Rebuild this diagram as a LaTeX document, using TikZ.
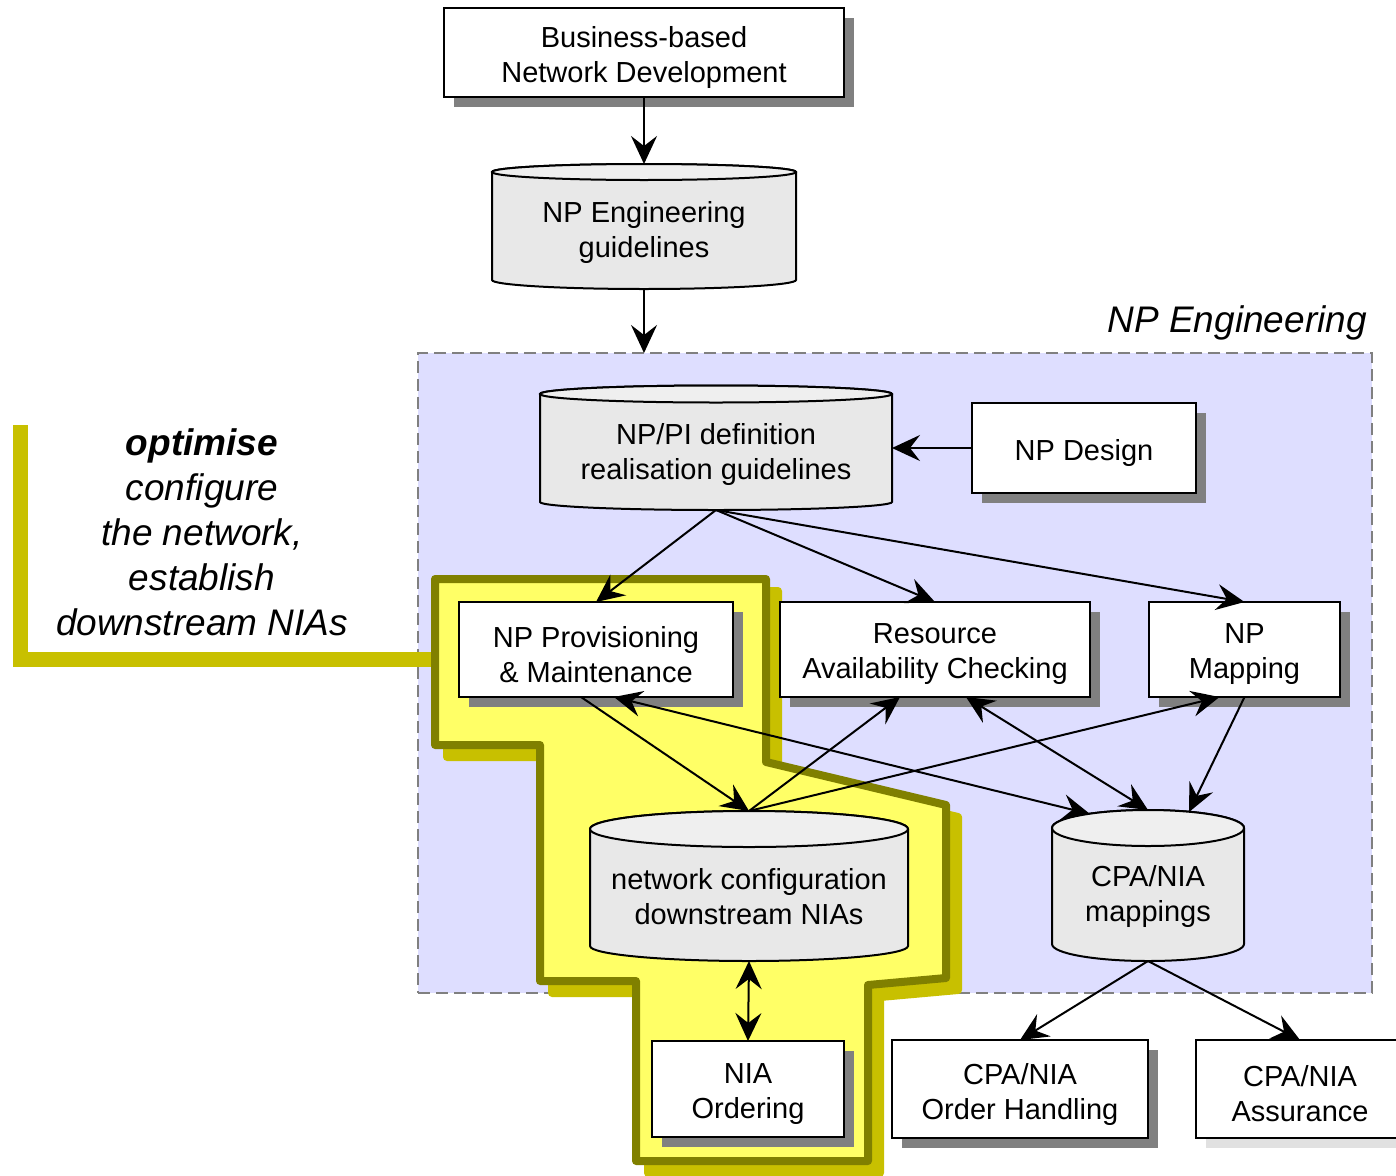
\documentclass[tikz,border=0pt]{standalone}
\usepackage{fontspec}
\setmainfont{Liberation Sans}
\usetikzlibrary{arrows.meta,shadows,calc}

\definecolor{regionfill}{RGB}{222,222,255}
\definecolor{regionline}{RGB}{128,128,128}
\definecolor{hlfill}{RGB}{255,255,102}
\definecolor{hlline}{RGB}{128,128,0}
\definecolor{hlshadow}{RGB}{200,192,0}
\definecolor{boxshadow}{RGB}{128,128,128}
\definecolor{lightshadow}{RGB}{225,225,225}
\definecolor{drumbody}{RGB}{232,232,232}
\definecolor{drumtop}{RGB}{239,239,239}

\newcommand\boxfont{\fontsize{29}{35}\selectfont}
\newcommand\notefont{\itshape\fontsize{37}{45}\selectfont}

% database drum: name, left, right, top-ellipse y, bottom-ellipse y, top ry, bottom ry, text
\newcommand\drum[8]{%
  \path[drumline, fill=drumbody]
    (#2,#4) -- (#2,#5)
    arc[start angle=180, end angle=0, x radius={(#3-#2)/2}, y radius=#7]
    -- (#3,#4)
    arc[start angle=0, end angle=-180, x radius={(#3-#2)/2}, y radius=#6] -- cycle;
  \path[drumline, fill=drumtop] ({(#2+#3)/2},#4) ellipse[x radius={(#3-#2)/2}, y radius=#6];
  \node[inner sep=0pt, outer sep=0pt, minimum width={#3-#2}, minimum height={#5+#7-#4+#6}]
    (#1) at ({(#2+#3)/2},{(#4-#6+#5+#7)/2}) {};
  \node[celltext] (#1txt) at ({(#2+#3)/2},{(#4-#6+#5+#7)/2+#6/2+2}) {#8};
}

% process box: name, centre x, centre y, width, height, style, text
\newcommand\procbox[7]{%
  \node[#6, minimum width=#4, minimum height=#5] (#1) at (#2,#3) {};
  \node[celltext] (#1txt) at (#2,{#3+5}) {#7};
}

\begin{document}
\begin{tikzpicture}[x=1pt, y=-1pt,
  box/.style={draw, fill=white, line width=2.5pt, inner sep=0pt, outer sep=0pt,
    drop shadow={shadow xshift=10pt, shadow yshift=-10pt, opacity=1, fill=boxshadow}},
  boxlight/.style={draw, fill=white, line width=2.5pt, inner sep=0pt, outer sep=0pt,
    drop shadow={shadow xshift=10pt, shadow yshift=-10pt, opacity=1, fill=lightshadow}},
  drumline/.style={draw=black, line width=2pt},
  celltext/.style={align=center, font=\boxfont, inner sep=0pt},
  arr/.style={line width=2pt, -{Stealth[length=28pt, width=26pt, inset=10pt]}},
  darr/.style={line width=2pt,
    {Stealth[length=28pt, width=26pt, inset=10pt]}-{Stealth[length=28pt, width=26pt, inset=10pt]}},
  hlpath/.style={line width=8pt, line join=round},
]
\useasboundingbox (0,0) rectangle (1396,1175);

% NP Engineering area
\node[draw=regionline, fill=regionfill, line width=2pt, dash pattern=on 12pt off 6pt,
      inner sep=0pt, outer sep=0pt, minimum width=954, minimum height=640]
  (region) at (895,673) {};
\node[anchor=base east, inner sep=0pt, font=\notefont] (regiontitle) at (1367,332) {NP Engineering};

% highlight bracket and note
\draw[hlshadow, line width=15pt, line join=miter] (20,425) -- (20,659.5) -- (434,659.5);
\node[align=center, font=\notefont, inner sep=0pt] (note) at (202,532)
  {\textbf{optimise}\\configure\\the network,\\establish\\downstream NIAs};

% highlighted area with its shadow
\begin{scope}[shift={(12,12)}]
  \path[hlpath, draw=hlshadow, fill=hlshadow]
    (435,579) -- (766,579) -- (766,762) -- (946,805) -- (946,978) -- (868,985)
    -- (868,1161) -- (636,1161) -- (636,981) -- (540,981) -- (540,745) -- (435,745) -- cycle;
\end{scope}
\path[hlpath, draw=hlline, fill=hlfill]
  (435,579) -- (766,579) -- (766,762) -- (946,805) -- (946,978) -- (868,985)
  -- (868,1161) -- (636,1161) -- (636,981) -- (540,981) -- (540,745) -- (435,745) -- cycle;

% process boxes
\procbox{biz}{644}{52.5}{400}{89}{box}{Business-based\\Network Development}
\procbox{design}{1084}{448}{224}{90}{box}{NP Design}
\procbox{prov}{596}{649.5}{274}{95}{box}{NP Provisioning\\\& Maintenance}
\procbox{res}{935}{649.5}{310}{95}{box}{Resource\\Availability Checking}
\procbox{map}{1244.5}{649.5}{191}{95}{box}{NP\\Mapping}
\procbox{nia}{748}{1089}{192}{96}{box}{NIA\\Ordering}
\procbox{order}{1020}{1089}{256}{98}{box}{CPA/NIA\\Order Handling}
\procbox{assur}{1300}{1089}{208}{98}{boxlight}{CPA/NIA\\Assurance}

% data stores
\drum{npeng}{492}{796}{172}{280}{8}{9}{NP Engineering\\guidelines}
\drum{nppi}{540}{892}{394}{502}{8.5}{8}{NP/PI definition\\realisation guidelines}
\drum{netconf}{590}{908}{829}{946}{18}{15}{network configuration\\downstream NIAs}
\drum{cpa}{1052}{1244}{828}{944}{18}{17}{CPA/NIA\\mappings}

% connectors
\draw[arr] (biz.south) -- (npeng.north);
\draw[arr] (npeng.south) -- (npeng.south |- region.north);
\draw[arr] (design.west) -- (design.west -| nppi.east);
\draw[arr] (nppi.south) -- (prov.north);
\draw[arr] (nppi.south) -- (res.north);
\draw[arr] (nppi.south) -- (map.north);
\draw[arr] ($(prov.south)+(-15,0)$) -- (netconf.north);
\draw[arr] (netconf.north) -- ($(res.south)+(-35,0)$);
\draw[arr] (netconf.north) -- ($(map.south)+(-25,0)$);
\draw[darr] ($(prov.south)+(18,0)$) -- ($(cpa.north)+(-58,4)$);
\draw[darr] ($(res.south)+(31,0)$) -- (cpa.north);
\draw[arr] (map.south) -- ($(cpa.north)+(41,2)$);
\draw[darr] (netconf.south) -- (nia.north);
\draw[arr] (cpa.south) -- (order.north);
\draw[arr] (cpa.south) -- (assur.north);
\end{tikzpicture}
\end{document}
